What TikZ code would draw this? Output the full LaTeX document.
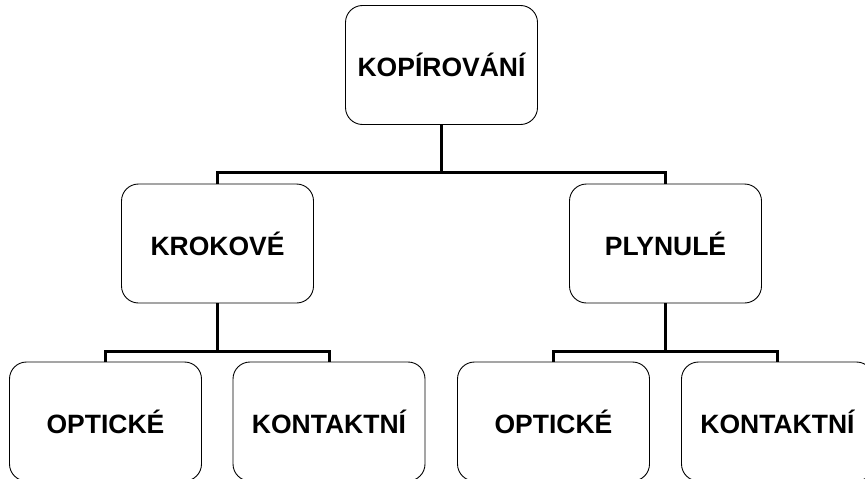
\documentclass[tikz,border=0pt]{standalone}
\usepackage{fontspec}
\setmainfont{Liberation Sans}
\begin{document}
\begin{tikzpicture}[x=1pt,y=-1pt,
  box/.style={draw=black,line width=0.9pt,rounded corners=17pt,fill=white,
    minimum width=192pt,minimum height=119pt,inner sep=0pt,outer sep=0pt,
    font=\fontsize{26.5}{31}\selectfont\bfseries},
  link/.style={draw=black,line width=3pt,line join=miter}]
  \clip (0,0) rectangle (865,479);
  \fill[white] (0,0) rectangle (865,479);

  % boxes
  \node[box] (top)  at (441.5,65)  {KOPÍROVÁNÍ};
  \node[box] (krok) at (217.5,243.5) {KROKOVÉ};
  \node[box] (plyn) at (665.5,243.5) {PLYNULÉ};
  \node[box] (opt1) at (105.5,421.5) {OPTICKÉ};
  \node[box] (kon1) at (329,421.5)   {KONTAKTNÍ};
  \node[box] (opt2) at (553.5,421.5) {OPTICKÉ};
  \node[box] (kon2) at (777.5,421.5) {KONTAKTNÍ};

  % junction points of the tree
  \coordinate (j0) at (441.5,172);
  \coordinate (j1) at (217.5,351);
  \coordinate (j2) at (665.5,351);

  % connectors
  \draw[link] (top.south) -- (j0);
  \draw[link] (krok.north) |- (j0) -| (plyn.north);
  \draw[link] (krok.south) -- (j1);
  \draw[link] (opt1.north) |- (j1) -| (kon1.north);
  \draw[link] (plyn.south) -- (j2);
  \draw[link] (opt2.north) |- (j2) -| (kon2.north);
\end{tikzpicture}
\end{document}
